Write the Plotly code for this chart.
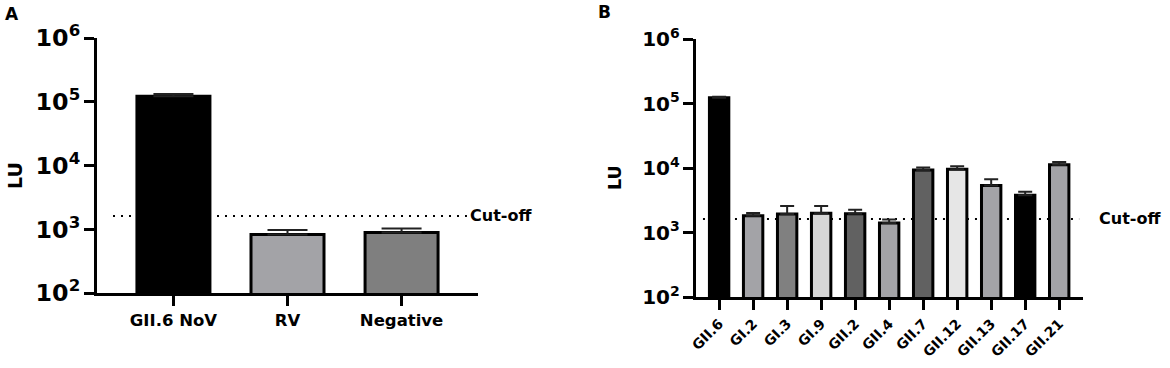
import math

import plotly.graph_objects as go

# panel A
A_CATS = ["GII.6 NoV", "RV", "Negative"]
A_MEAN = [122000, 830, 890]
A_ERR = [10000, 145, 135]
A_COLORS = ["#000000", "#a3a3a7", "#7f7f7f"]

# panel B
B_CATS = ["GII.6", "GI.2", "GI.3", "GI.9", "GII.2", "GII.4",
          "GII.7", "GII.12", "GII.13", "GII.17", "GII.21"]
B_MEAN = [123000, 1820, 1940, 1990, 1950, 1400, 9300, 9600, 5340, 3780, 11250]
B_ERR = [4000, 180, 640, 590, 300, 190, 900, 1000, 1360, 500, 1150]
B_COLORS = ["#000000", "#a3a3a7", "#808080", "#d6d6d6", "#616161", "#a3a3a7",
            "#616161", "#e6e6e6", "#a3a3a7", "#000000", "#a3a3a7"]

CUTOFF = 1620

W, H = 1170, 368
FONT = "DejaVu Sans"
XR_A = [-0.67, 2.67]
XR_B = [-0.68, 10.7]


def px_x(a, b):
    return [a / W, b / W]


def px_y(top, bottom):
    return [1 - bottom / H, 1 - top / H]


def bold(size):
    return dict(family=FONT, size=size, color="black", weight="bold")


fig = go.Figure()

fig.add_trace(go.Bar(
    x=A_CATS, y=A_MEAN, xaxis="x", yaxis="y", width=0.64,
    marker=dict(color=A_COLORS, line=dict(color="black", width=3)),
    error_y=dict(type="data", array=A_ERR, arrayminus=[0] * len(A_ERR),
                 symmetric=False, color="#222222", thickness=2, width=20),
))

fig.add_trace(go.Bar(
    x=B_CATS, y=B_MEAN, xaxis="x2", yaxis="y2", width=0.57,
    marker=dict(color=B_COLORS, line=dict(color="black", width=3)),
    error_y=dict(type="data", array=B_ERR, arrayminus=[0] * len(B_ERR),
                 symmetric=False, color="#222222", thickness=2, width=7),
))

yax = dict(
    type="log", range=[2, 6], dtick=1, exponentformat="power",
    showline=True, linewidth=3, linecolor="black",
    ticks="outside", ticklen=10, tickwidth=3, tickcolor="black",
    showgrid=False, zeroline=False, automargin=False,
)
xax = dict(
    type="category", showline=True, linewidth=3, linecolor="black",
    ticks="outside", ticklen=10, tickwidth=3, tickcolor="black",
    showgrid=False, zeroline=False, automargin=False,
)

fig.update_layout(
    width=W, height=H,
    margin=dict(l=0, r=0, t=0, b=0),
    paper_bgcolor="white", plot_bgcolor="white",
    font=dict(family=FONT, color="black"),
    showlegend=False,
    xaxis=dict(xax, domain=px_x(97, 478), anchor="y", range=XR_A,
               tickfont=bold(16.5)),
    yaxis=dict(yax, domain=px_y(38, 293), anchor="x", tickfont=bold(19)),
    xaxis2=dict(xax, domain=px_x(696, 1083), anchor="y2", range=XR_B,
                tickangle=-45, tickfont=bold(14)),
    yaxis2=dict(yax, domain=px_y(39, 297), anchor="x2", tickfont=bold(16)),
)


def frac(rng, f):
    return rng[0] + f * (rng[1] - rng[0])


# cut-off lines, behind the bars (shapes take data values on log axes here)
for xr, yr, rng, f0, f1 in [("x", "y", XR_A, 0.042, 0.971), ("x2", "y2", XR_B, 0.018, 0.99)]:
    fig.add_shape(
        type="line", xref=xr, yref=yr, x0=frac(rng, f0), x1=frac(rng, f1),
        y0=CUTOFF, y1=CUTOFF,
        line=dict(color="black", width=2, dash="2px,6px"), layer="below",
    )

fig.add_annotation(xref="x domain", yref="y", x=0.975, y=math.log10(CUTOFF),
                   text="Cut-off", showarrow=False, xanchor="left", yanchor="middle",
                   font=bold(16))
fig.add_annotation(xref="x2 domain", yref="y2", x=1.036, y=math.log10(CUTOFF),
                   text="Cut-off", showarrow=False, xanchor="left", yanchor="middle",
                   font=bold(16))

fig.add_annotation(xref="paper", yref="paper", x=15 / W, y=1 - 176 / H, text="LU",
                   textangle=-90, showarrow=False, xanchor="center", yanchor="middle",
                   font=bold(19))
fig.add_annotation(xref="paper", yref="paper", x=615 / W, y=1 - 178 / H, text="LU",
                   textangle=-90, showarrow=False, xanchor="center", yanchor="middle",
                   font=bold(17.5))

fig.add_annotation(xref="paper", yref="paper", x=3 / W, y=1 - 2 / H, text="A",
                   showarrow=False, xanchor="left", yanchor="top", font=bold(17))
fig.add_annotation(xref="paper", yref="paper", x=596 / W, y=1 - 0 / H, text="B",
                   showarrow=False, xanchor="left", yanchor="top", font=bold(17))

# drop the default 8px body margin so the figure fills the window
fig.write_html("out.html", config={"displayModeBar": False},
               post_script="document.body.style.margin='0';")
